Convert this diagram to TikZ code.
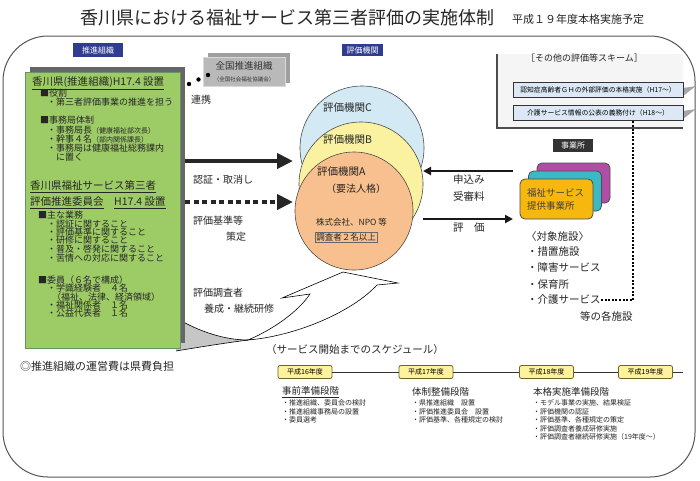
\documentclass[tikz,border=0pt]{standalone}
\usepackage{fontspec}
\setmainfont{Noto Sans CJK JP}
\usetikzlibrary{arrows.meta}
\definecolor{grn}{HTML}{9DCB66}
\definecolor{lblue}{HTML}{D3EAF5}
\definecolor{lyel}{HTML}{FAF2A0}
\definecolor{peach}{HTML}{F8C08E}
\definecolor{navy}{HTML}{2F3C8F}
\definecolor{barblue}{HTML}{DCE8F5}
\definecolor{yrbox}{HTML}{FFF29E}
\definecolor{purp}{HTML}{B04DA5}
\definecolor{cyn}{HTML}{3DB8C5}
\definecolor{gold}{HTML}{F6B80E}
\definecolor{framec}{HTML}{555555}
\newcommand{\myfs}[1]{\fontsize{#1}{#1}\selectfont}
\begin{document}
\begin{tikzpicture}[x=1pt,y=-1pt,
  txt/.style={anchor=west,inner sep=0pt,text=black!85},
  tagbox/.style={fill=navy,text=white,font=\myfs{8},inner sep=0pt,minimum height=14pt},
  bigarrow/.style={line width=4pt,-{Triangle[length=16pt,width=15pt]}},
  midarrow/.style={line width=2.6pt,-{Triangle[length=8pt,width=8pt]}},
  outl/.style={draw=black!70,line width=0.6pt},
  yearbox/.style={draw=olive!70!black,fill=yrbox,rounded corners=2pt,line width=0.8pt,minimum width=54pt,minimum height=13pt,inner sep=0pt,font=\myfs{7}},
  barbox/.style={draw=black!80,fill=barblue,line width=0.7pt,minimum width=170pt,minimum height=15pt,inner sep=0pt,font=\myfs{6.8}},
  stackbox/.style={draw=black!70,line width=0.8pt,rounded corners=5pt,minimum width=73pt,minimum height=40pt,inner sep=0pt},
  dotline/.style={line width=2pt,dash pattern=on 2pt off 1.6pt}
]
\useasboundingbox (0,0) rectangle (700,480);
\fill[white] (0,0) rectangle (700,480);

% title
\node[txt,font=\myfs{18}] (title) at (80,18) {香川県における福祉サービス第三者評価の実施体制};
\node[txt,font=\myfs{11}] (subtitle) at (512,19) {平成１９年度本格実施予定};

% outer frame
\draw[framec,line width=1pt,rounded corners=45pt] (3,36) rectangle (695,477);

% section tags
\node[tagbox,minimum width=50pt] (tagsuishin) at (98,50) {推進組織};
\node[tagbox,minimum width=41pt,minimum height=12pt] (taghyoka) at (362.5,50) {評価機関};

% curved arrow (training)
\coordinate (X) at (248,340);
\fill[gray!45] (176,318) .. controls (200,332) and (225,340) .. (X) .. controls (225,343) and (200,347) .. (176,351) -- cycle;
\draw[black,line width=0.6pt] (176,318) .. controls (200,332) and (225,340) .. (X);
\draw[black,line width=0.6pt] (X) .. controls (225,343) and (200,347) .. (176,351);
\draw[black,line width=0.6pt,fill=white] (X) .. controls (272,330) and (298,312) .. (310,294) -- (282,298) -- (343,272) -- (398,283) -- (377,285) .. controls (352,312) and (296,336) .. (X) -- cycle;

% green box
\node[fill=gray!50!black!80,minimum width=155pt,minimum height=276pt,anchor=north west,inner sep=0pt] (shad) at (30,67) {};
\node[fill=grn,draw=green!30!black!60,line width=0.4pt,minimum width=155pt,minimum height=276pt,anchor=north west,inner sep=0pt] (grnbox) at (25,72) {};

\node[txt,font=\myfs{10.5}] (h1) at (32,83) {\underline{香川県(推進組織)H17.4 設置}};
\node[txt,font=\myfs{9}] (g1) at (40,93) {■役割};
\node[txt,font=\myfs{9}] (g2) at (47,102) {・第三者評価事業の推進を担う};
\node[txt,font=\myfs{9}] (g3) at (40,120) {■事務局体制};
\node[txt,font=\myfs{9}] (g4) at (47,130) {・事務局長{\myfs{7}（健康福祉部次長）}};
\node[txt,font=\myfs{9}] (g5) at (47,139) {・幹事４名{\myfs{7}（部内関係課長）}};
\node[txt,font=\myfs{9}] (g6) at (47,148) {・事務局は健康福祉総務課内};
\node[txt,font=\myfs{9}] (g7) at (56,157) {に置く};

\node[txt,font=\myfs{10.5}] (h2) at (30,187) {\underline{香川県福祉サービス第三者}};
\node[txt,font=\myfs{10.5}] (h3) at (30,203) {\underline{評価推進委員会}\quad\underline{H17.4 設置}};
\node[txt,font=\myfs{9}] (k1) at (38,215) {■主な業務};
\node[txt,font=\myfs{9}] (k2) at (47,224) {・認証に関すること};
\node[txt,font=\myfs{9}] (k3) at (47,232) {・評価基準に関すること};
\node[txt,font=\myfs{9}] (k4) at (47,240) {・研修に関すること};
\node[txt,font=\myfs{9}] (k5) at (47,249) {・普及・啓発に関すること};
\node[txt,font=\myfs{9}] (k6) at (47,258) {・苦情への対応に関すること};
\node[txt,font=\myfs{9}] (k7) at (38,280) {■委員（６名で構成）};
\node[txt,font=\myfs{9}] (k8) at (47,288) {・学識経験者　４名};
\node[txt,font=\myfs{9}] (k9) at (52,297) {（福祉、法律、経済領域）};
\node[txt,font=\myfs{9}] (k10) at (47,305) {・福祉関係者　１名};
\node[txt,font=\myfs{9}] (k11) at (47,313) {・公益代表者　１名};

% national org
\node[fill=gray!75,minimum width=82pt,minimum height=30pt,anchor=north west,inner sep=0pt] (natback) at (208,53) {};
\node[fill=gray!55,draw=gray!30,line width=0.6pt,minimum width=82pt,minimum height=29pt,anchor=north west,inner sep=0pt] (national) at (203,57) {};
\node[font=\myfs{9.5},inner sep=0pt,text=black!80] (natname) at (244,66) {全国推進組織};
\node[font=\myfs{5.5},inner sep=0pt,text=black!80] (natsub) at (244,79) {（全国社会福祉協議会）};
\fill[black] (189,84) circle (2.2pt) (198.5,79.5) circle (2.2pt) (208,75) circle (2.2pt);
\node[txt,font=\myfs{10}] (renkei) at (191,100) {連携};

% circles
\node[circle,outl,fill=lblue,minimum size=124pt,inner sep=0pt] (cC) at (362,148) {};
\node[circle,outl,fill=lyel,minimum size=124pt,inner sep=0pt] (cB) at (361,184) {};
\node[circle,outl,fill=peach,minimum size=118pt,inner sep=0pt] (cA) at (354,211) {};
\node[txt,font=\myfs{10.5}] (tC) at (323,108) {評価機関C};
\node[txt,font=\myfs{10.5}] (tB) at (323,140) {評価機関B};
\node[txt,font=\myfs{10.5}] (tA) at (317,172) {評価機関A};
\node[txt,font=\myfs{10}] (tA2) at (326,189) {（要法人格）};
\node[txt,font=\myfs{8.5}] (tA3) at (316,222) {株式会社、NPO 等};
\node[txt,font=\myfs{8.5},draw=black!60,line width=0.5pt,inner sep=1.2pt] (tA4) at (315,237) {調査者２名以上};

% left arrows
\coordinate (e1) at (293,161);
\coordinate (e2) at (293,202);
\draw[bigarrow,black!85] (shad.east |- e1) -- (e1);
\draw[bigarrow,black!85,dash pattern=on 5pt off 3.5pt] (shad.east |- e2) -- (e2);
\node[txt,font=\myfs{10}] (l1) at (193,180) {認証・取消し};
\node[txt,font=\myfs{10}] (l2) at (193,221) {評価基準等};
\node[txt,font=\myfs{10}] (l3) at (226,237) {策定};
\node[txt,font=\myfs{10}] (l4) at (193,293) {評価調査者};
\node[txt,font=\myfs{10}] (l5) at (204,309) {養成・継続研修};

% jigyosho stack
\node[tagbox,fill=black!80,minimum width=40pt,minimum height=13pt] (tagjig) at (573,145.5) {事業所};
\node[stackbox,fill=purp] (sp) at (573.5,183) {};
\node[stackbox,fill=cyn] (sc) at (565,191) {};
\node[stackbox,fill=gold] (sg) at (556.5,199) {};
\node[txt,font=\myfs{9.5},text=black!75] (sg1) at (527,193) {福祉サービス};
\node[txt,font=\myfs{9.5},text=black!75] (sg2) at (527,206) {提供事業所};

% right arrows
\coordinate (r1s) at (513,171);
\coordinate (r1e) at (423,171);
\coordinate (r2s) at (423,219);
\coordinate (r2e) at (513,219);
\draw[midarrow,black!90] (r1s) -- (r1e);
\draw[midarrow,black!90] (r2s) -- (r2e);
\node[txt,font=\myfs{10.5}] (m1) at (453,179) {申込み};
\node[txt,font=\myfs{10.5}] (m2) at (453,196) {受審料};
\node[txt,font=\myfs{10.5}] (m3) at (453,228) {評　価};

% target facilities
\node[txt,font=\myfs{10.5}] (f0) at (526,237) {〈対象施設〉};
\node[txt,font=\myfs{10.5}] (f1) at (527,252) {・措置施設};
\node[txt,font=\myfs{10.5}] (f2) at (527,268) {・障害サービス};
\node[txt,font=\myfs{10.5}] (f3) at (527,285) {・保育所};
\node[txt,font=\myfs{10.5}] (kaigo) at (527,300) {・介護サービス};
\node[txt,font=\myfs{10.5}] (f5) at (580,316) {等の各施設};

% other schemes panel
\fill[gray!8] (497,54) rectangle (683,128);
\draw[gray!60!black,line width=1.3pt] (497,54) -- (497,128) -- (683,128);
\node[txt,font=\myfs{9}] (schemet) at (526,58) {［その他の評価等スキーム］};
\fill[gray!70] (683,88) -- (696,86) -- (683,96) -- cycle;
\fill[gray!70] (683,111) -- (696,109) -- (683,119) -- cycle;
\node[barbox] (bar1) at (598,89.5) {認知症高齢者ＧＨの外部評価の本格実施（H17～）};
\node[barbox] (bar2) at (598,112.5) {介護サービス情報の公表の義務付け（H18～）};
\coordinate (dtop) at (633,120);
\draw[dotline] (kaigo.east) -| (dtop);

% notes
\node[txt,font=\myfs{11}] (note) at (20,366) {◎推進組織の運営費は県費負担};
\node[txt,font=\myfs{10.5}] (schedt) at (266,350) {（サービス開始までのスケジュール）};

% timeline
\node[yearbox] (y16) at (305,372) {平成16年度};
\node[yearbox] (y17) at (426,372) {平成17年度};
\node[yearbox] (y18) at (546.5,372) {平成18年度};
\node[yearbox] (y19) at (645.5,372) {平成19年度};
\coordinate (tlend) at (683,372);
\draw[black!80,line width=0.7pt] (y16.east) -- (y17.west) (y17.east) -- (y18.west) (y18.east) -- (y19.west) (y19.east) -- (tlend);

\node[txt,font=\myfs{9.5}] (s16h) at (282,392) {\underline{事前準備段階}};
\node[txt,font=\myfs{7}] (s16a) at (282,403) {・推進組織、委員会の検討};
\node[txt,font=\myfs{7}] (s16b) at (282,411.5) {・推進組織事務局の設置};
\node[txt,font=\myfs{7}] (s16c) at (282,420) {・委員選考};

\node[txt,font=\myfs{9.5}] (s17h) at (412,392) {体制整備段階};
\node[txt,font=\myfs{7}] (s17a) at (412,403) {・県推進組織　設置};
\node[txt,font=\myfs{7}] (s17b) at (412,411.5) {・評価推進委員会　設置};
\node[txt,font=\myfs{7}] (s17c) at (412,420) {・評価基準、各種規定の検討};

\node[txt,font=\myfs{9.5}] (s18h) at (533,392) {本格実施準備段階};
\node[txt,font=\myfs{7}] (s18a) at (533,403) {・モデル事業の実施、結果検証};
\node[txt,font=\myfs{7}] (s18b) at (533,411.5) {・評価機関の認証};
\node[txt,font=\myfs{7}] (s18c) at (533,420) {・評価基準、各種規定の策定};
\node[txt,font=\myfs{7}] (s18d) at (533,428.5) {・評価調査者養成研修実施};
\node[txt,font=\myfs{7}] (s18e) at (533,437) {・評価調査者継続研修実施（19年度～）};
\end{tikzpicture}
\end{document}
